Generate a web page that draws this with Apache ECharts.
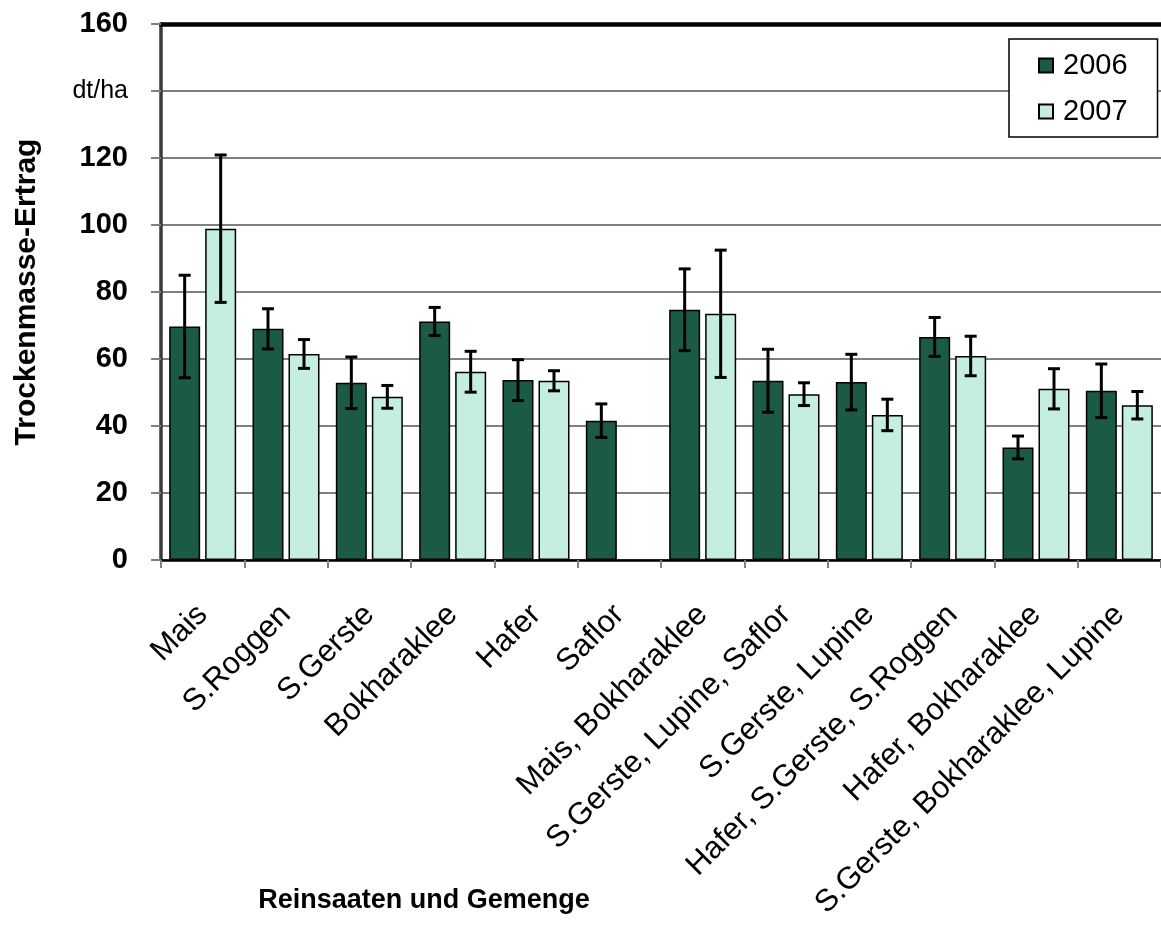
<!DOCTYPE html>
<html>
<head>
<meta charset="utf-8">
<title>Trockenmasse-Ertrag</title>
<script src="https://cdn.jsdelivr.net/npm/echarts@6/dist/echarts.min.js"></script>
<style>
  html, body { margin: 0; padding: 0; background: #fff; }
  #chart { width: 1161px; height: 926px; }
</style>
</head>
<body>
<div id="chart"></div>
<script>
// Crops (pure stands and mixtures)
const categories = [
  'Mais', 'S.Roggen', 'S.Gerste', 'Bokharaklee', 'Hafer', 'Saflor',
  'Mais, Bokharaklee', 'S.Gerste, Lupine, Saflor', 'S.Gerste, Lupine',
  'Hafer, S.Gerste, S.Roggen', 'Hafer, Bokharaklee', 'S.Gerste, Bokharaklee, Lupine'
];

// Dry matter yield in dt/ha, and the half-width of each error bar
const yield2006 = [69.7, 69.0, 52.9, 71.2, 53.7, 41.6, 74.7, 53.5, 53.1, 66.6, 33.6, 50.5];
const err2006   = [15.3, 6.0, 7.7, 4.2, 6.1, 5.0, 12.2, 9.4, 8.3, 5.8, 3.4, 8.0];
const yield2007 = [98.9, 61.5, 48.7, 56.2, 53.5, null, 73.5, 49.5, 43.3, 60.9, 51.1, 46.2];
const err2007   = [22.0, 4.3, 3.4, 6.1, 3.0, null, 19.0, 3.4, 4.7, 5.9, 6.0, 4.1];

const yTicks = { min: 0, max: 160, interval: 20 };

const FONT = '"Liberation Sans", Arial, Helvetica, sans-serif';
const BAR_W = 31;
const BAR_GAP_PX = 5;
const HALF_STEP = (BAR_W + BAR_GAP_PX) / 2;
const CAP = 6;

function errorData(values, errs) {
  const out = [];
  values.forEach((v, i) => {
    if (v != null && errs[i] != null) out.push([i, v, errs[i]]);
  });
  return out;
}

function errorRenderer(offset) {
  return function (params, api) {
    const i = api.value(0), v = api.value(1), e = api.value(2);
    const hi = api.coord([i, v + e]);
    const lo = api.coord([i, v - e]);
    const x = hi[0] + offset;
    const style = { stroke: '#000', lineWidth: 3 };
    return {
      type: 'group',
      children: [
        { type: 'line', shape: { x1: x, y1: hi[1], x2: x, y2: lo[1] }, style },
        { type: 'line', shape: { x1: x - CAP, y1: hi[1], x2: x + CAP, y2: hi[1] }, style },
        { type: 'line', shape: { x1: x - CAP, y1: lo[1], x2: x + CAP, y2: lo[1] }, style }
      ]
    };
  };
}

const chart = echarts.init(document.getElementById('chart'), null, { renderer: 'canvas' });

chart.setOption({
  backgroundColor: '#ffffff',
  animation: false,
  textStyle: { fontFamily: FONT, color: '#000' },
  grid: { left: 161, top: 24, width: 1004, bottom: 366, containLabel: false },
  legend: {
    data: ['2006', '2007'],
    orient: 'vertical',
    left: 1009,
    top: 39,
    padding: [12, 30, 11, 29],
    itemGap: 17,
    itemWidth: 14,
    itemHeight: 14,
    icon: 'rect',
    backgroundColor: '#fff',
    borderColor: '#000',
    borderWidth: 1.5,
    borderRadius: 0,
    textStyle: { fontSize: 29, fontFamily: FONT, color: '#000', padding: [0, 0, 0, 5] }
  },
  xAxis: [
    {
      type: 'category',
      data: categories,
      position: 'bottom',
      axisLine: { show: true, lineStyle: { color: '#000', width: 2.5 } },
      axisTick: { show: true, length: 8, lineStyle: { color: '#808080', width: 2 } },
      axisLabel: {
        interval: 0,
        rotate: 45,
        margin: 50,
        fontSize: 31,
        fontFamily: FONT,
        color: '#000'
      },
      splitLine: { show: false }
    },
    {
      type: 'category',
      data: categories,
      position: 'top',
      axisLine: { show: true, lineStyle: { color: '#000', width: 4.5 } },
      axisTick: { show: false },
      axisLabel: { show: false },
      splitLine: { show: false }
    }
  ],
  yAxis: {
    type: 'value',
    min: yTicks.min,
    max: yTicks.max,
    interval: yTicks.interval,
    name: 'Trockenmasse-Ertrag',
    nameLocation: 'middle',
    nameRotate: 90,
    nameGap: 119,
    nameTextStyle: { fontSize: 30, fontWeight: 'bold', fontFamily: FONT, color: '#000' },
    axisLine: { show: true, lineStyle: { color: '#3a3a3a', width: 3.5 } },
    axisTick: { show: true, length: 10, lineStyle: { color: '#808080', width: 2 } },
    axisLabel: {
      margin: 33,
      fontSize: 29,
      fontWeight: 'bold',
      fontFamily: FONT,
      color: '#000',
      formatter: v => (v === 140 ? '{u|dt/ha}' : String(v)),
      rich: {
        u: { fontSize: 25, fontWeight: 'normal', fontFamily: FONT, color: '#000' }
      }
    },
    splitLine: { show: true, lineStyle: { color: '#808080', width: 2 } }
  },
  graphic: [
    {
      type: 'text',
      x: 424,
      y: 901,
      style: {
        text: 'Reinsaaten und Gemenge',
        font: 'bold 27px ' + FONT,
        fill: '#000',
        align: 'center',
        verticalAlign: 'middle'
      }
    }
  ],
  series: [
    {
      name: '2006',
      type: 'bar',
      data: yield2006,
      barWidth: BAR_W,
      barGap: (BAR_GAP_PX / BAR_W * 100) + '%',
      itemStyle: { color: '#1b5a47', borderColor: '#000', borderWidth: 1.5 },
      z: 2
    },
    {
      name: '2007',
      type: 'bar',
      data: yield2007,
      barWidth: BAR_W,
      itemStyle: { color: '#c3eee0', borderColor: '#000', borderWidth: 1.5 },
      z: 2
    },
    {
      name: '2006 Fehler',
      type: 'custom',
      data: errorData(yield2006, err2006),
      encode: { x: 0, y: 1 },
      renderItem: errorRenderer(-HALF_STEP),
      z: 5,
      silent: true
    },
    {
      name: '2007 Fehler',
      type: 'custom',
      data: errorData(yield2007, err2007),
      encode: { x: 0, y: 1 },
      renderItem: errorRenderer(HALF_STEP),
      z: 5,
      silent: true
    }
  ]
});
</script>
</body>
</html>
